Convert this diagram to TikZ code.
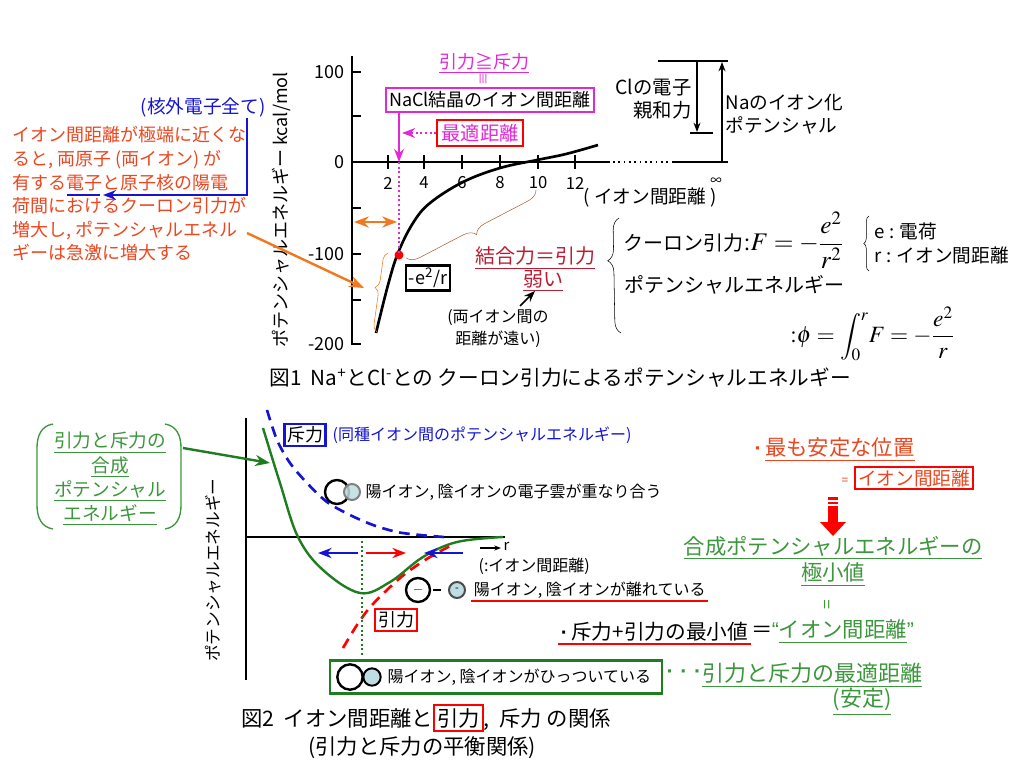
\documentclass[tikz,border=0pt]{standalone}
\usepackage{amsmath}
\usepackage{mathptmx}
\usepackage{fontspec}
\setmainfont{Noto Sans CJK JP}
\newfontfamily\latinfont{Liberation Sans}
\usetikzlibrary{arrows.meta,decorations.pathreplacing,positioning,calc}

\definecolor{redorange}{RGB}{235,70,30}
\definecolor{mag}{RGB}{225,40,215}
\definecolor{grn}{RGB}{60,150,60}
\definecolor{dgrn}{RGB}{30,125,30}
\definecolor{blu}{RGB}{20,20,210}
\definecolor{orng}{RGB}{240,120,30}
\definecolor{brwn}{RGB}{170,95,55}
\definecolor{dred}{RGB}{185,30,50}
\definecolor{ltblue}{RGB}{190,220,225}

\tikzset{
  fz/.style={font=\fontsize{#1}{#1}\selectfont},
  fzl/.style 2 args={font=\fontsize{#1}{#2}\selectfont},
  axisline/.style={line width=1.8pt},
  tickmark/.style={line width=1.4pt},
  redbox/.style={draw=red,line width=1.5pt,inner sep=3pt},
  bigion/.style={circle,draw,line width=1.8pt,minimum size=18pt,inner sep=0pt},
  smlion/.style={circle,draw=gray,fill=ltblue,line width=1.5pt,minimum size=12pt,inner sep=0pt},
  dashcurve/.style={line width=2pt,dash pattern=on 8pt off 5pt},
  brc/.style={decorate,decoration={brace,amplitude=#1}},
}
\newcommand{\bigmath}[1]{{\fontsize{19}{19}\selectfont$#1$}}
\newcommand{\midmath}[1]{{\fontsize{17.5}{17.5}\selectfont$#1$}}
\newcommand{\ldot}{{\latinfont\textbf{·}}}

\begin{document}
\begin{tikzpicture}[x=0.75pt,y=-0.75pt,every node/.style={inner sep=1pt}]
\useasboundingbox (0,0) rectangle (1024,768);

% --- figure 1: axes
\draw[axisline] (352,56) -- (352,345);
\foreach \y in {72,116,162,208,254,300,344}
  \draw[tickmark] (352,\y) -- (361,\y);
\node[fz=13.5,anchor=east] (e100) at (346,72) {100};
\node[fz=13.5,anchor=east] (e0) at (346,162) {0};
\node[fz=13.5,anchor=east] (em100) at (346,254) {-100};
\node[fz=13.5,anchor=east] (em200) at (346,344) {-200};
\draw[axisline] (352,162) -- (610,162);
\draw[line width=1.3pt,dash pattern=on 1.2pt off 2.8pt] (613,162) -- (671,162);
\draw[axisline] (672,162) -- (728,162);
\foreach \x/\l in {388/2,424/4,462/6,500/8,538/10,575/12}{
  \draw[tickmark] (\x,155) -- (\x,169);
  \node[fz=12.5] at (\x,183) {\l};
}
\node[fz=12] (inf) at (716,181) {$\infty$};
\node[fz=14] (rlab) at (650,197) {( イオン間距離 )};
\node[fz=13.5,rotate=90] (ylab) at (281,210) {ポテンシャルエネルギー kcal/mol};

% coulomb curve
\draw[line width=2pt] plot[smooth,tension=0.6] coordinates
  {(376,333) (388,285) (398,253) (413,223) (430,203) (463,182) (500,168) (537,160) (566,154) (598,145)};
\coordinate (bond) at (399,255);
\coordinate (optx) at (399,162);
\fill[red] (bond) circle (4.5);

% magenta labels
\node[fz=13.5,text=mag] (cond) at (484,63) {\underline{引力≧斥力}};
\node[fz=10,text=mag,rotate=90] (condeq) at (484,79) {≡};
\node[fz=13.5,draw=mag,line width=1.5pt,inner sep=2.5pt] (nacl) at (490,100) {NaCl結晶のイオン間距離};
\node[fz=14.5,redbox,text=mag] (best) at (480,133) {最適距離};
\draw[mag,line width=1.5pt,-{Stealth}] (nacl.south -| optx) -- (optx);
\draw[mag,line width=1.5pt,dotted,-{Stealth}] (best.west) -- (best.west -| 402,0);
\draw[mag,line width=1.5pt,dotted] (optx) -- (bond);

% orange marks
\draw[orng,line width=1.8pt,{Stealth}-{Stealth}] (354,222) -- (397,222);
\draw[orng,brc=6pt,decoration={aspect=0.55}] (377,332) -- (388,253);
\node[fz=13.5,draw,line width=1.8pt,inner sep=2pt] (coul) at (428,278) {-e\textsuperscript{2}/r};

% brown brace and label
\draw[brwn,brc=9pt] (536,190) -- (406,258);
\node[fz=15,text=dred] (bind) at (535,258) {\underline{結合力＝引力}};
\node[fz=15,text=dred] (weak) at (543,281) {\underline{弱い}};
\node[fzl={12}{16.5},align=center] (far) at (498,329) {(両イオン間の\\距離が遠い)};
\draw[line width=1.2pt,-{Stealth}] (520,306) -- (535,291);

% left notes
\node[fz=14,text=blu] (outer) at (203,107) {(核外電子全て)};
\node[fzl={13.5}{17.7},text=redorange,align=left,anchor=north west] (note) at (11,125)
  {イオン間距離が極端に近くな\\ると, 両原子 (両イオン) が\\有する電子と原子核の陽電\\荷間におけるクーロン引力が\\増大し, ポテンシャルエネル\\ギーは急激に増大する};
\coordinate (elec) at (103,195);
\draw[blu,line width=1.5pt,-{Stealth}] (247,118) |- (elec);
\draw[blu,line width=1.5pt] (67,195) -- (100,195);
\coordinate (noteend) at (247,233);
\draw[orng,line width=1.8pt,-{Stealth}] (noteend) -- (364,288);

% energy levels
\draw[axisline] (658,61) -- (728,61);
\draw[axisline] (690,133) -- (713,133);
\draw[line width=0.9pt,-{Stealth[length=7pt]}] (697,62) -- (697,132);
\draw[line width=0.9pt,-{Stealth[length=7pt]}] (722,161) -- (722,62);
\node[fzl={14.5}{17},align=right,anchor=east] (eaff) at (693,99) {Clの電子\\親和力};
\node[fzl={14}{17},align=left,anchor=west] (ipot) at (724,114) {Naのイオン化\\ポテンシャル};

% formulas
\draw[brc=9pt,decoration={aspect=0.63}] (621,333) -- (619,218);
\node[fz=15,anchor=west] (force) at (622,240) {クーロン引力\bigmath{{:}F = -\dfrac{e^2}{r^2}}};
\draw[brc=4pt] (869,271) -- (869,216);
\node[fz=14,anchor=west] (echg) at (873,231) {e : 電荷};
\node[fz=14,anchor=west] (rdst) at (873,255) {r : イオン間距離};
\node[fz=15,anchor=west] (pot) at (623,285) {ポテンシャルエネルギー};
\node[fz=15,anchor=west,inner sep=0pt] (phi) at (790,334) {\midmath{{:}\phi = \displaystyle\int_0^r\! F = -\dfrac{e^2}{r}}};

\node[fz=15.5] (cap1) at (560,378) {図1\ \ Na\textsuperscript{+}とCl\textsuperscript{-}との クーロン引力によるポテンシャルエネルギー};

% --- figure 2: axes and curves
\draw[axisline] (246,418) -- (246,680);
\draw[axisline] (246,537) -- (505,537);
\node[fz=12.5,rotate=90] (ylab2) at (213,570) {ポテンシャルエネルギー};
\draw[blu,dashcurve] plot[smooth] coordinates
  {(267,410) (277,440) (290,463) (307,483) (327,502) (350,515) (373,525) (397,532) (420,535) (444,537)};
\draw[red,dashcurve] plot[smooth] coordinates
  {(343,648) (357,625) (372,605) (400,578) (425,560) (450,546)};
\draw[dgrn,line width=1.8pt] plot[smooth,tension=0.6] coordinates
  {(263,428) (280,483) (298,537) (323,570) (360,593) (390,582) (423,557) (457,542) (503,537)};
\draw[dgrn,line width=1.5pt,dotted] (362,541) -- (362,655);
\draw[blu,line width=1.6pt,-{Stealth}] (358,553) -- (318,553);
\draw[red,line width=1.6pt,-{Stealth}] (366,553) -- (406,553);
\draw[blu,line width=1.6pt,-{Stealth}] (463,553) -- (424,553);
\draw[line width=1.8pt,-{Stealth[length=5pt]}] (480,548) -- (501,548);
\node[fz=11,anchor=west] (rr) at (502,546) {r};
\node[fz=12,anchor=west] (rdef) at (477,566) {(:イオン間距離)};

\node[fz=13.5,draw=blu,line width=1.8pt,inner sep=2pt] (rep) at (305,435) {斥力};
\node[fz=12,text=blu,anchor=west] (repdef) at (331,435) {(同種イオン間のポテンシャルエネルギー)};
\node[fz=13.5,redbox,inner sep=2pt] (att) at (396,620) {引力};

% ion pictures
\node[bigion] (pa) at (337,492) {};
\node[smlion,fill opacity=0.85] (na) at (352,492) {};
\node[fz=12,anchor=west] (overl) at (364,492) {陽イオン, 陰イオンの電子雲が重なり合う};
\node[bigion] (pb) at (418,590) {$-$};
\node[smlion,draw=black!70] (nb) at (457,590) {\fontsize{8}{8}\selectfont -};
\draw[line width=1.6pt] (433,590) -- (441,590);
\node[fz=12,anchor=west,inner sep=2pt] (apart) at (471,590) {陽イオン, 陰イオンが離れている};
\draw[red,line width=1.5pt] (apart.south west) -- (apart.south east);
\node[draw=dgrn,line width=1.8pt,minimum width=249pt,minimum height=24.5pt] (stuckbox) at (496,677) {};
\node[bigion,minimum size=19pt] (pc) at (350,677) {};
\node[smlion,draw=black,minimum size=13pt] (nc) at (372,677) {};
\node[fz=12,anchor=west] (stuck) at (386,677) {陽イオン, 陰イオンがひっついている};

% left green label
\node[fzl={14}{18.2},text=grn,align=center] (mix) at (110,479)
  {\underline{引力と斥力の}\\\underline{合成}\\\underline{ポテンシャル}\\\underline{エネルギー}};
\draw[grn,line width=1pt] (53,424) .. controls (41,426) and (37,436) .. (37,448) -- (37,505) .. controls (37,517) and (41,527) .. (53,529);
\draw[grn,line width=1pt] (165,424) .. controls (177,426) and (181,436) .. (181,448) -- (181,505) .. controls (181,517) and (177,527) .. (165,529);
\coordinate (mixout) at (183,448);
\draw[dgrn,line width=1.8pt,-{Stealth}] (mixout) -- (270,463);

% right notes
\node[fz=16,text=redorange,anchor=west] (stable) at (753,450) {\ldot\,\underline{最も安定な位置}};
\node[fz=9,text=redorange] (eqa) at (845,481) {=};
\node[fz=14,redbox,text=redorange,inner sep=2pt] (ionbox) at (914,478) {イオン間距離};
\fill[red] (828,497) rectangle (838,499.5);
\fill[red] (828,501.5) rectangle (838,504);
\fill[red] (828,506) rectangle (838,523);
\fill[red] (820,522) -- (846,522) -- (833,536) -- cycle;
\node[fz=16,text=grn] (minpot) at (833,548) {\underline{合成ポテンシャルエネルギーの}};
\node[fz=16,text=grn] (minval) at (833,575) {\underline{極小値}};
\node[fz=13,text=grn,rotate=90] (eqb) at (829,605) {=};
\node[fz=15.5,anchor=west,inner sep=2pt] (summin) at (558,632) {\ldot\,斥力+引力の最小値};
\draw[red,line width=1.5pt] (summin.south west) -- (summin.south east);
\node[fz=16,right=-1pt of summin] (eqc) {＝};
\node[fz=16,text=grn,right=-3pt of eqc] (dist) {{\latinfont “}\underline{イオン間距離}{\latinfont ”}};
\node[fz=16,text=grn] (dots) at (684,674) {\ldot\hspace{5pt}\ldot\hspace{5pt}\ldot};
\node[fz=16.5,text=grn] (optd) at (812,675) {\underline{引力と斥力の最適距離}};
\node[fz=16.5,text=grn] (stab) at (862,702) {\underline{(安定)}};

\node[fz=16] (cap2) at (426,718) {図2\ \ イオン間距離と{\setlength\fboxrule{1.5pt}\setlength\fboxsep{1.5pt}\fcolorbox{red}{white}{引力}}, \ 斥力 の関係};
\node[fz=16] (cap2b) at (422,748) {(引力と斥力の平衡関係)};
\end{tikzpicture}
\end{document}
